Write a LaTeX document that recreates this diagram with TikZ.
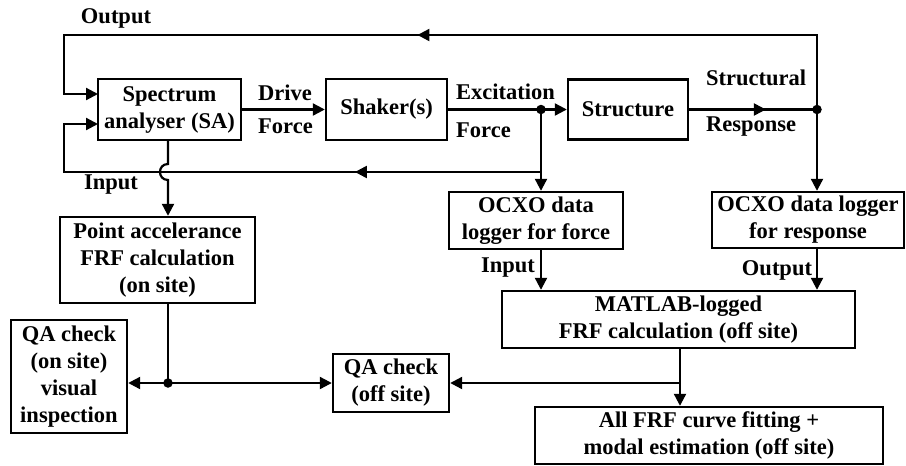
\documentclass[tikz,border=0pt]{standalone}
\usepackage{fontspec}
\setmainfont{Liberation Serif}
\usetikzlibrary{arrows.meta,decorations.markings}
\begin{document}
\begin{tikzpicture}[x=1pt,y=-1pt,
  txt/.style={font=\bfseries\fontsize{22.5}{27}\selectfont},
  box/.style={txt,draw,line width=2.4pt,align=center,inner sep=0pt},
  lbl/.style={txt,inner sep=0pt},
  wire/.style={line width=2.2pt},
  tip/.style={-{Triangle[length=12pt,width=12pt]}},
  dot/.style={circle,fill,inner sep=0pt,minimum size=9.5pt},
  midarrow/.style={postaction={decorate},decoration={markings,
    mark=at position #1 with {\arrow{Triangle[length=12pt,width=12pt]}}}}
]
\useasboundingbox (0,0) rectangle (906,466);

% blocks
\node[box,minimum width=143pt,minimum height=61pt] (sa) at (169.5,109.5) {Spectrum\\analyser (SA)};
\node[box,minimum width=121pt,minimum height=61pt] (shaker) at (386.5,109.5) {Shaker(s)};
\node[box,minimum width=120pt,minimum height=60pt] (struct) at (628,109.5) {Structure};
\node[box,minimum width=174pt,minimum height=57pt] (ocxof) at (536,220.5) {OCXO data\\logger for force};
\node[box,minimum width=192pt,minimum height=56pt] (ocxor) at (808,220) {OCXO data logger\\for response};
\node[box,minimum width=195pt,minimum height=86pt] (pa) at (157.5,260) {Point accelerance\\FRF calculation\\(on site)};
\node[box,minimum width=353pt,minimum height=57pt] (matlab) at (678.5,319.5) {MATLAB-logged\\FRF calculation (off site)};
\node[box,minimum width=116pt,minimum height=113pt] (qaon) at (69,376.5) {QA check\\(on site)\\visual\\inspection};
\node[box,minimum width=116pt,minimum height=58pt] (qaoff) at (391,383) {QA check\\(off site)};
\node[box,minimum width=348pt,minimum height=57pt] (allfrf) at (709,435.5) {All FRF curve fitting +\\modal estimation (off site)};

% junctions and routing points
\coordinate (jf) at (541,109.5);
\coordinate (jr) at (817,109.5);
\coordinate (jq) at (168,383);
\coordinate (jm) at (680,383);
\coordinate (tr) at (817,35);
\coordinate (tl) at (64,35);
\coordinate (sain1) at (98,94);
\coordinate (sain2) at (98,124);
\coordinate (br) at (541,172);
\coordinate (bl) at (64,172);
\coordinate (hopa) at (168,164);
\coordinate (hopb) at (168,180);

% main signal chain
\draw[wire,tip] (sa.east) -- (shaker.west);
\draw[wire] (shaker.east) -- (jf);
\draw[wire,tip] (jf) -- (struct.west);
\draw[wire,midarrow=0.6] (struct.east) -- (jr);

% output feedback to the analyser
\draw[wire,midarrow=0.515,tip] (jr) -- (tr) -- (tl) |- (sain1);
% input feedback to the analyser
\draw[wire,midarrow=0.4,tip] (jf) -- (br) -- (bl) |- (sain2);

% loggers
\draw[wire,tip] (jr) -- (ocxor.north -| jr);
\draw[wire,tip] (jf) -- (ocxof.north -| jf);
\draw[wire,tip] (ocxof.south -| jf) -- (matlab.north -| jf);
\draw[wire,tip] (ocxor.south -| jr) -- (matlab.north -| jr);

% analyser to on-site FRF, hopping over the input line
\draw[wire,tip] (sa.south -| jq) -- (hopa) .. controls (157.3,164) and (157.3,180) .. (hopb) -- (pa.north -| jq);

% QA checks
\draw[wire] (pa.south -| jq) -- (jq);
\draw[wire,tip] (jq) -- (qaon.east |- jq);
\draw[wire,tip] (jq) -- (qaoff.west);
\draw[wire] (matlab.south -| jm) -- (jm);
\draw[wire,tip] (jm) -- (qaoff.east);
\draw[wire,tip] (jm) -- (allfrf.north -| jm);

% junction dots
\node[dot] (djf) at (jf) {};
\node[dot] (djr) at (jr) {};
\node[dot] (djq) at (jq) {};

% labels
\node[lbl] (outlbl) at (116,18) {Output};
\node[lbl,anchor=west] (drive) at (258,93) {Drive};
\node[lbl,anchor=west] (force1) at (258,126) {Force};
\node[lbl,anchor=west] (excit) at (456,92) {Excitation};
\node[lbl,anchor=west] (force2) at (456,130) {Force};
\node[lbl,anchor=west] (structural) at (706,78) {Structural};
\node[lbl,anchor=west] (response) at (706,127) {Response};
\node[lbl] (in1) at (111,185) {Input};
\node[lbl] (in2) at (508,268) {Input};
\node[lbl] (out2) at (777,270) {Output};
\end{tikzpicture}
\end{document}
